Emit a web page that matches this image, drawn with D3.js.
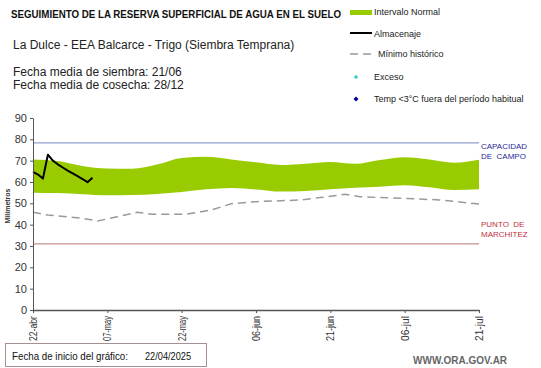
<!DOCTYPE html>
<html>
<head>
<meta charset="utf-8">
<script src="https://cdn.jsdelivr.net/npm/d3@7"></script>
<style>
  body { margin: 0; background: #fff; }
  svg { font-family: "Liberation Sans", Arial, sans-serif; }
</style>
</head>
<body>
<div id="chart"></div>
<script>
// ---- data ----
var startDate = "2025-04-22";
var endDay = 90;

// intervalo normal (days since start)
var bandDays  = [0, 5, 10, 15, 20, 25, 30, 35, 40, 45, 50, 55, 60, 65, 70, 75, 80, 85, 90];
var bandUpper = [70.6, 69.8, 67.5, 66.3, 66.2, 68.2, 71.3, 71.8, 70.6, 69.2, 68.0, 68.6, 69.4, 68.5, 70.3, 71.6, 70.5, 69.0, 70.4];
var bandLower = [55.0, 54.8, 54.3, 53.8, 53.9, 54.4, 55.3, 56.6, 57.2, 56.5, 55.5, 55.8, 56.6, 57.3, 57.8, 58.5, 57.5, 56.2, 56.6];

// almacenaje
var storDays = [0, 1, 2, 3, 4, 5, 6, 7, 8, 9, 10, 11, 12];
var storVals = [64.8, 63.5, 61.6, 72.8, 70.0, 68.3, 66.8, 65.3, 64.0, 62.7, 61.4, 59.9, 62.0];

// minimo historico
var minDays = [0, 3, 10, 13, 17, 21, 24, 31, 36, 40, 45, 50, 54, 58, 63, 66, 70, 75, 82, 90];
var minVals = [45.8, 44.5, 43.0, 41.7, 43.7, 45.8, 44.9, 44.9, 46.9, 49.8, 50.8, 51.2, 51.6, 52.7, 54.2, 53.1, 52.7, 52.3, 51.6, 49.7];

var capacidad = 78.3;
var marchitez = 31;

var yTicks = [0, 10, 20, 30, 40, 50, 60, 70, 80, 90];
var xTickDays = [0, 15, 30, 45, 60, 75, 90];
var xTickLabels = ["22-abr", "07-may", "22-may", "06-jun", "21-jun", "06-jul", "21-jul"];

// ---- setup ----
var width = 541, height = 368;
var svg = d3.select("#chart").append("svg")
    .attr("width", width)
    .attr("height", height);

var t0 = d3.timeParse("%Y-%m-%d")(startDate);
function dayToDate(d) { return d3.timeDay.offset(t0, d); }

var x = d3.scaleTime()
    .domain([t0, dayToDate(endDay)])
    .range([33, 479]);
var y = d3.scaleLinear()
    .domain([0, 90])
    .range([310, 118]);

// titles
svg.append("text").attr("x", 11).attr("y", 18)
    .attr("font-size", 10).attr("font-weight", "bold").attr("fill", "#111")
    .attr("textLength", 330).attr("lengthAdjust", "spacingAndGlyphs")
    .text("SEGUIMIENTO DE LA RESERVA  SUPERFICIAL DE AGUA EN EL SUELO");
svg.append("text").attr("x", 13).attr("y", 49)
    .attr("font-size", 12).attr("fill", "#222")
    .text("La Dulce - EEA Balcarce - Trigo (Siembra Temprana)");
svg.append("text").attr("x", 13).attr("y", 76)
    .attr("font-size", 12).attr("fill", "#222")
    .text("Fecha media de siembra: 21/06");
svg.append("text").attr("x", 13).attr("y", 89)
    .attr("font-size", 12).attr("fill", "#222")
    .text("Fecha media de cosecha: 28/12");

// legend
var lg = svg.append("g").attr("font-size", 9).attr("fill", "#222");
lg.append("rect").attr("x", 350).attr("y", 10).attr("width", 22).attr("height", 5).attr("fill", "#99cc00");
lg.append("text").attr("x", 374).attr("y", 15).text("Intervalo Normal");
lg.append("line").attr("x1", 350).attr("x2", 372).attr("y1", 33).attr("y2", 33)
    .attr("stroke", "#000").attr("stroke-width", 2);
lg.append("text").attr("x", 374).attr("y", 37).text("Almacenaje");
lg.append("line").attr("x1", 350).attr("x2", 373).attr("y1", 54).attr("y2", 54)
    .attr("stroke", "#999").attr("stroke-width", 1.5).attr("stroke-dasharray", "8,5");
lg.append("text").attr("x", 378).attr("y", 57).text("Mínimo histórico");
lg.append("circle").attr("cx", 356).attr("cy", 77).attr("r", 1.8).attr("fill", "#33cccc");
lg.append("text").attr("x", 374).attr("y", 80).text("Exceso");
lg.append("path").attr("d", "M356,96.5 L358.5,99 L356,101.5 L353.5,99 Z").attr("fill", "#000099");
lg.append("text").attr("x", 374).attr("y", 102).text("Temp <3°C fuera del período habitual");

// band
var band = bandDays.map(function (d, i) {
    return { date: dayToDate(d), hi: bandUpper[i], lo: bandLower[i] };
});
svg.append("path")
    .datum(band)
    .attr("fill", "#99cc00")
    .attr("d", d3.area()
        .x(function (d) { return x(d.date); })
        .y0(function (d) { return y(d.lo); })
        .y1(function (d) { return y(d.hi); })
        .curve(d3.curveMonotoneX));

// reference lines
svg.append("line").attr("x1", x(t0)).attr("x2", x(dayToDate(endDay)))
    .attr("y1", y(capacidad)).attr("y2", y(capacidad))
    .attr("stroke", "#8f9fd0").attr("stroke-width", 1.3);
svg.append("line").attr("x1", x(t0)).attr("x2", x(dayToDate(endDay)))
    .attr("y1", y(marchitez)).attr("y2", y(marchitez))
    .attr("stroke", "#c49090").attr("stroke-width", 1.3);

svg.append("text").attr("x", 481).attr("y", 149).attr("font-size", 8).attr("fill", "#2a2a9a").text("CAPACIDAD");
svg.append("text").attr("x", 481).attr("y", 159).attr("font-size", 8).attr("fill", "#2a2a9a").attr("xml:space", "preserve").text("DE  CAMPO");
svg.append("text").attr("x", 481).attr("y", 227).attr("font-size", 8).attr("fill", "#c0303a").attr("xml:space", "preserve").text("PUNTO  DE");
svg.append("text").attr("x", 481).attr("y", 237).attr("font-size", 8).attr("fill", "#c0303a").text("MARCHITEZ");

// minimo historico
var mins = minDays.map(function (d, i) { return { date: dayToDate(d), v: minVals[i] }; });
svg.append("path")
    .datum(mins)
    .attr("fill", "none")
    .attr("stroke", "#999")
    .attr("stroke-width", 1.5)
    .attr("stroke-dasharray", "8,5")
    .attr("d", d3.line()
        .x(function (d) { return x(d.date); })
        .y(function (d) { return y(d.v); }));

// almacenaje
var stor = storDays.map(function (d, i) { return { date: dayToDate(d), v: storVals[i] }; });
svg.append("path")
    .datum(stor)
    .attr("fill", "none")
    .attr("stroke", "#000")
    .attr("stroke-width", 2)
    .attr("stroke-linejoin", "round")
    .attr("d", d3.line()
        .x(function (d) { return x(d.date); })
        .y(function (d) { return y(d.v); }));

// axes
var yAxis = svg.append("g")
    .attr("transform", "translate(33,0)")
    .call(d3.axisLeft(y).tickValues(yTicks).tickSize(3).tickPadding(3).tickSizeOuter(0));
yAxis.selectAll("text").attr("font-size", 11).attr("fill", "#333")
    .attr("font-family", "Liberation Sans, Arial, sans-serif");
yAxis.selectAll("line, path").attr("stroke", "#555");

var xAxis = svg.append("g")
    .attr("transform", "translate(0,310)")
    .call(d3.axisBottom(x)
        .tickValues(xTickDays.map(dayToDate))
        .tickFormat(function (d, i) { return xTickLabels[i]; })
        .tickSize(3).tickSizeOuter(0));
xAxis.select(".domain").attr("stroke", "#555").attr("stroke-width", 1.3);
xAxis.selectAll("line").attr("stroke", "#555");
xAxis.selectAll("text")
    .attr("font-size", 10).attr("fill", "#333")
    .attr("font-family", "Liberation Sans, Arial, sans-serif")
    .attr("textLength", 25).attr("lengthAdjust", "spacingAndGlyphs")
    .attr("transform", "rotate(-90)")
    .attr("text-anchor", "end")
    .attr("x", -6).attr("y", 0).attr("dy", "0.35em");

svg.append("text")
    .attr("transform", "translate(10,206) rotate(-90)")
    .attr("text-anchor", "middle")
    .attr("font-size", 7).attr("font-weight", "bold").attr("fill", "#333")
    .text("Milímetros");

// start date box
svg.append("rect").attr("x", 5.5).attr("y", 343.5).attr("width", 201).attr("height", 23)
    .attr("fill", "#fff").attr("stroke", "#a89090").attr("stroke-width", 1);
svg.append("text").attr("x", 12).attr("y", 360).attr("font-size", 10.5)
    .attr("fill", "#111")
    .attr("textLength", 116).attr("lengthAdjust", "spacingAndGlyphs")
    .text("Fecha de inicio del gráfico:");
svg.append("text").attr("x", 145).attr("y", 360).attr("font-size", 10.5)
    .attr("fill", "#111")
    .attr("textLength", 46).attr("lengthAdjust", "spacingAndGlyphs")
    .text("22/04/2025");

svg.append("text").attr("x", 413).attr("y", 364).attr("font-size", 10)
    .attr("font-weight", "bold").attr("fill", "#666")
    .text("WWW.ORA.GOV.AR");
</script>
</body>
</html>
